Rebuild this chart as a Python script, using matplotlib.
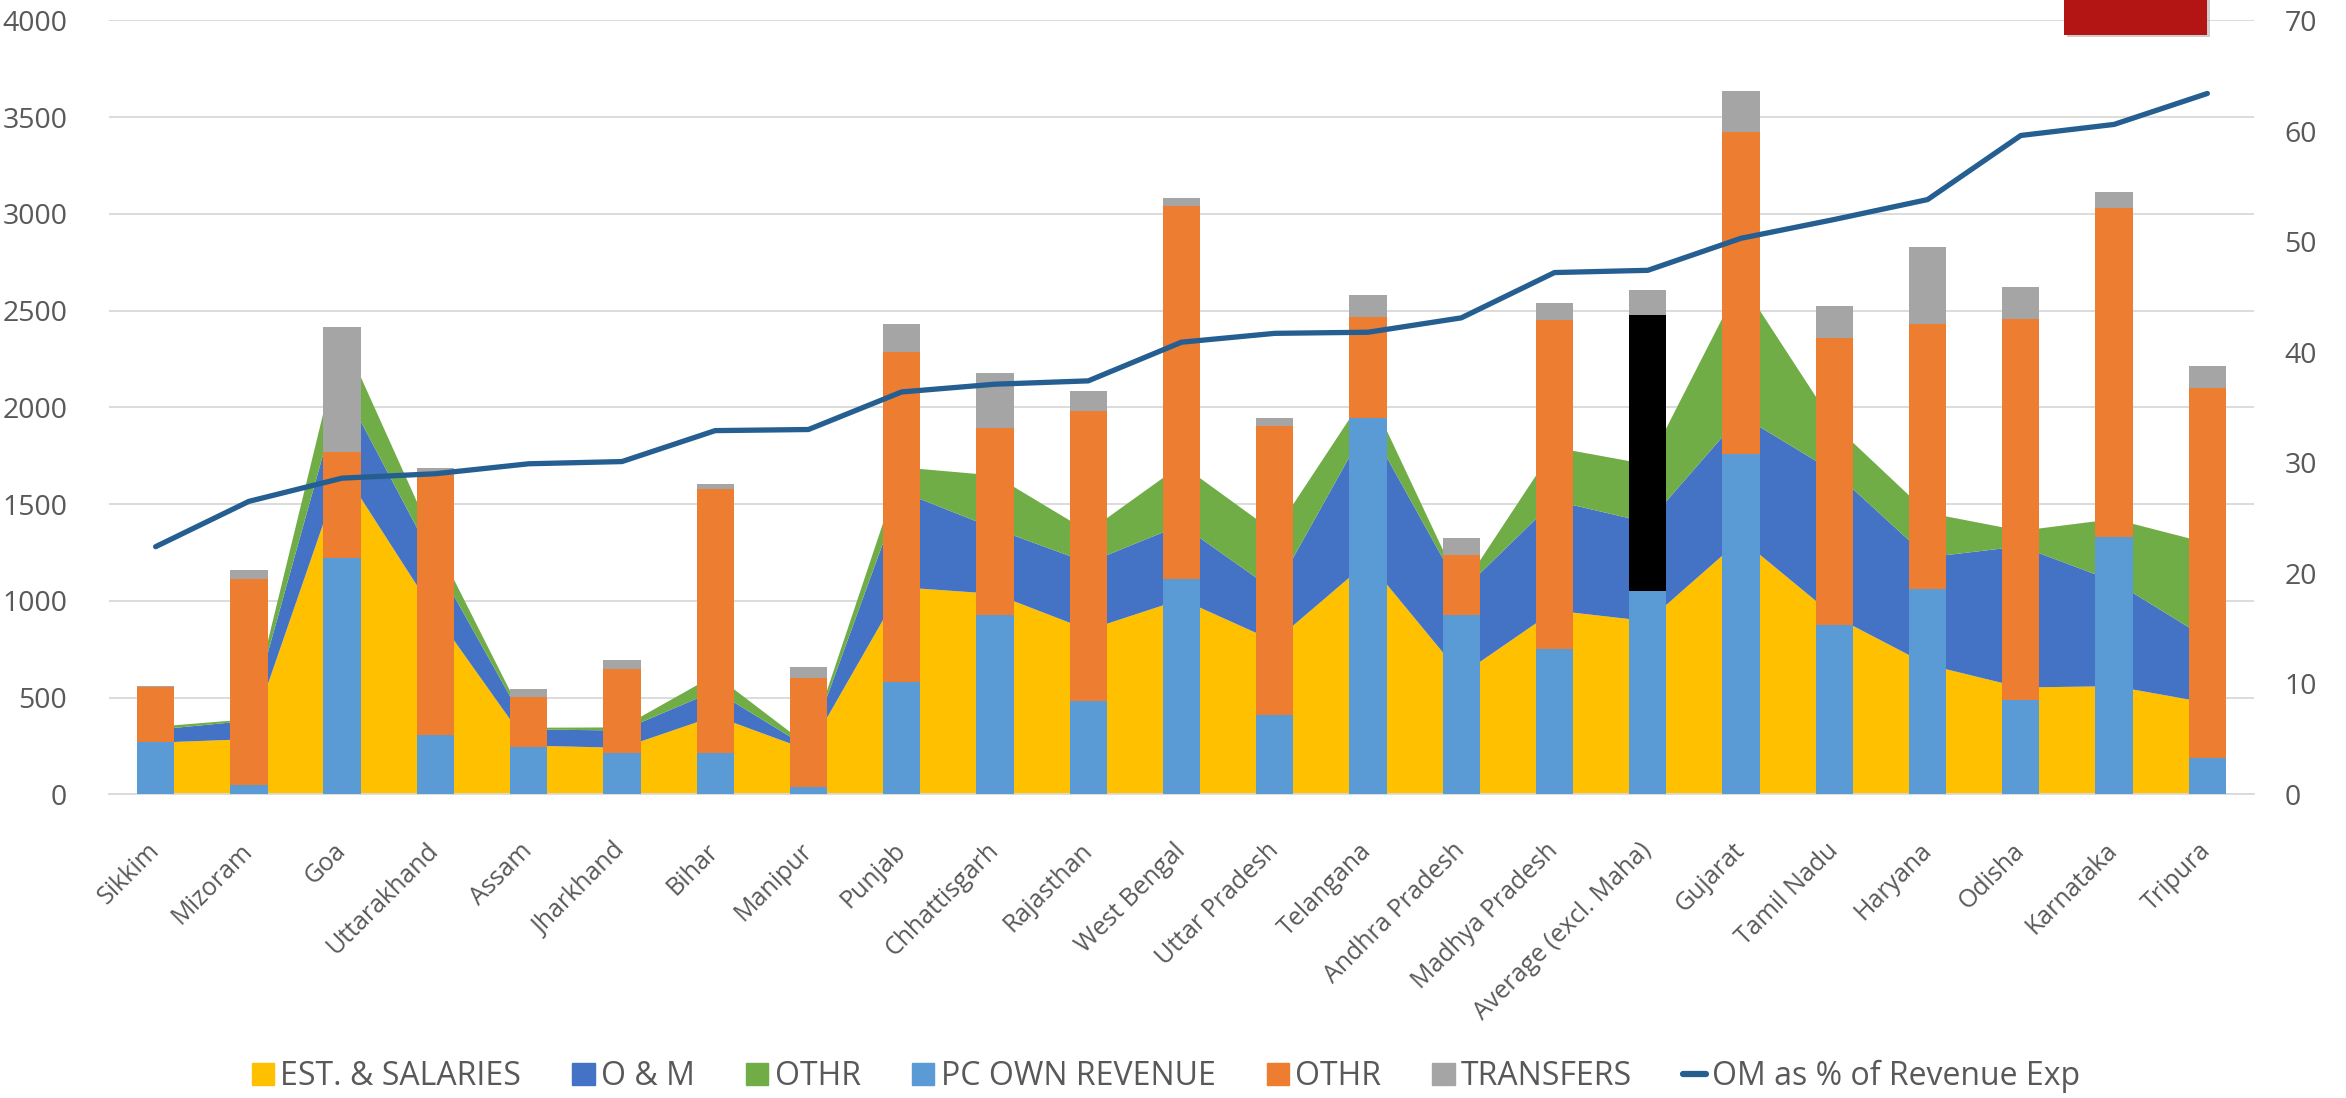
import matplotlib
matplotlib.use('Agg')
import numpy as np
import matplotlib.pyplot as plt
from matplotlib import font_manager
from matplotlib.patches import Patch, Rectangle
from matplotlib.lines import Line2D

# categories
states = ['Sikkim', 'Mizoram', 'Goa', 'Uttarakhand', 'Assam', 'Jharkhand', 'Bihar', 'Manipur',
          'Punjab', 'Chhattisgarh', 'Rajasthan', 'West Bengal', 'Uttar Pradesh', 'Telangana',
          'Andhra Pradesh', 'Madhya Pradesh', 'Average (excl. Maha)', 'Gujarat', 'Tamil Nadu',
          'Haryana', 'Odisha', 'Karnataka', 'Tripura']

# expenditure side (stacked areas)
est_salaries = [267, 285, 1682, 931, 252, 240, 405, 228, 1070, 1036, 850, 1008, 791, 1203,
                618, 950, 895, 1319, 921, 670, 552, 559, 473]
o_and_m = [67, 95, 428, 266, 83, 90, 130, 12, 494, 337, 347, 385, 261, 713,
           430, 567, 510, 639, 745, 555, 730, 542, 331]
othr_exp = [15, 8, 261, 103, 9, 16, 82, 10, 126, 275, 161, 311, 302, 170,
            14, 276, 300, 692, 243, 230, 80, 322, 495]

# revenue side (stacked bars)
pc_own_revenue = [271, 48, 1223, 309, 246, 215, 215, 40, 579, 928, 481, 1112, 412, 1947,
                  928, 753, 1052, 1761, 873, 1060, 485, 1332, 189]
othr_rev = [282, 1067, 547, 1343, 257, 434, 1361, 561, 1705, 967, 1498, 1930, 1492, 519,
            309, 1701, 1427, 1664, 1486, 1371, 1970, 1699, 1911]
transfers = [9, 45, 648, 35, 43, 47, 27, 59, 147, 285, 105, 43, 41, 113,
             86, 86, 127, 211, 167, 400, 168, 84, 116]

# O&M as % of revenue expenditure (right axis)
om_pct = [22.4, 26.5, 28.6, 29.0, 29.9, 30.1, 32.9, 33.0, 36.4, 37.1, 37.4, 40.9, 41.7, 41.8,
          43.1, 47.2, 47.4, 50.3, 52.0, 53.8, 59.6, 60.6, 63.4]

available = {f.name for f in font_manager.fontManager.ttflist}
base_font = 'Open Sans' if 'Open Sans' in available else 'DejaVu Sans'
legend_font = 'Liberation Sans Narrow' if 'Liberation Sans Narrow' in available else base_font
plt.rcParams['font.family'] = [base_font, 'DejaVu Sans']

c_est, c_om, c_oth = '#FFC000', '#4472C4', '#70AD47'
c_pc, c_orev, c_tr = '#5B9BD5', '#ED7D31', '#A5A5A5'
c_line = '#255E91'
tick_col = '#595959'

fig = plt.figure(figsize=(23.46, 10.98), dpi=100)

# red marker box in the top right corner (behind the plot)
fig.patches.append(Rectangle((0.8810, 0.9660), 0.0610, 0.034, transform=fig.transFigure,
                             facecolor='#9E9E9E', edgecolor='none', alpha=0.5, zorder=0))
fig.patches.append(Rectangle((0.8798, 0.9681), 0.0609, 0.0325, transform=fig.transFigure,
                             facecolor='#B31514', edgecolor='none', zorder=0))

ax = fig.add_axes([0.04646, 0.27659, 0.91432, 0.70474])
ax.set_facecolor('none')
x = np.arange(len(states))

ax.stackplot(x, est_salaries, o_and_m, othr_exp, colors=[c_est, c_om, c_oth],
             linewidth=0, zorder=2)

w = 0.4
bot2 = np.array(pc_own_revenue) + np.array(othr_rev)
orev_cols = [c_orev] * len(states)
orev_cols[states.index('Average (excl. Maha)')] = '#000000'
ax.bar(x, pc_own_revenue, w, color=c_pc, zorder=3)
ax.bar(x, othr_rev, w, bottom=pc_own_revenue, color=orev_cols, zorder=3)
ax.bar(x, transfers, w, bottom=bot2, color=c_tr, zorder=3)

ax.set_xlim(-0.5, len(states) - 0.5)
ax.set_ylim(0, 4000)
ax.set_yticks(np.arange(0, 4001, 500))
ax.set_axisbelow(True)
ax.grid(axis='y', color='#D9D9D9', linewidth=1.3, zorder=0)
for s in ['top', 'left', 'right']:
    ax.spines[s].set_visible(False)
ax.spines['bottom'].set_color('#D9D9D9')
ax.spines['bottom'].set_linewidth(1.3)
ax.set_xticks(x)
ax.set_xticklabels(states, rotation=45, ha='right', va='center', rotation_mode='anchor',
                   fontsize=18, color=tick_col)
ax.tick_params(axis='x', length=0, pad=38)
ax.tick_params(axis='y', length=0, pad=30, labelsize=20.5, labelcolor=tick_col)

ax2 = ax.twinx()
ax2.set_facecolor('none')
ax2.plot(x, om_pct, color=c_line, linewidth=3.8, solid_capstyle='round', zorder=5)
ax2.set_ylim(0, 70)
ax2.set_yticks(np.arange(0, 71, 10))
for s in ax2.spines.values():
    s.set_visible(False)
ax2.tick_params(axis='y', length=0, pad=22, labelsize=20.5, labelcolor=tick_col)

handles = [Patch(color=c_est), Patch(color=c_om), Patch(color=c_oth),
           Patch(color=c_pc), Patch(color=c_orev), Patch(color=c_tr),
           Line2D([0], [0], color=c_line, linewidth=4.5, solid_capstyle='round')]
labels = ['EST. & SALARIES', 'O & M', 'OTHR', 'PC OWN REVENUE', 'OTHR', 'TRANSFERS',
          'OM as % of Revenue Exp']
fig.legend(handles, labels, loc='lower center', bbox_to_anchor=(0.497, -0.022), ncol=7,
           frameon=False, prop={'family': [legend_font, 'DejaVu Sans'], 'size': 23},
           handlelength=0.7, handleheight=0.7, handletextpad=0.2, columnspacing=1.6,
           labelcolor=tick_col)

fig.savefig('out.png', dpi=100)
